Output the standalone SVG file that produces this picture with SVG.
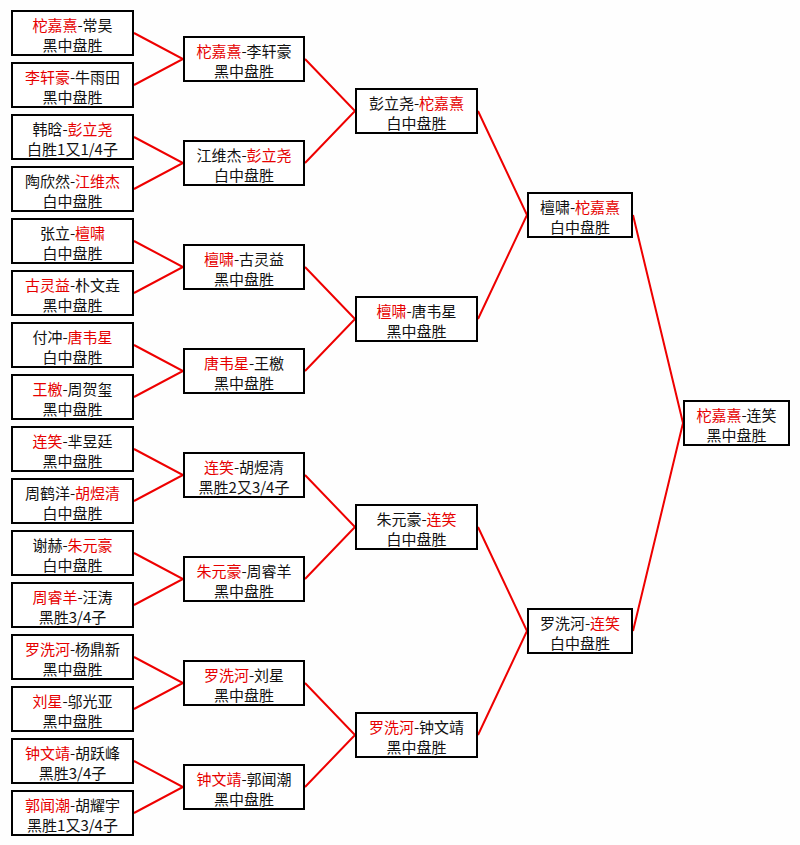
<svg xmlns="http://www.w3.org/2000/svg" width="800" height="845" viewBox="0 0 800 845">
<style>
.box{fill:#fff;stroke:#000;stroke-width:2}
.t{font-family:"Noto Sans CJK SC","Noto Sans",sans-serif;font-size:15px;fill:#111;text-anchor:middle}
.r{fill:#e60000}
.c{fill:none;stroke:#e00;stroke-width:2}
</style>
<rect width="800" height="845" fill="#fefefe"/>
<g id="connectors">
<polyline class="c" points="134,33 183,59 134,85"/>
<polyline class="c" points="134,137 183,163 134,189"/>
<polyline class="c" points="134,241 183,267 134,293"/>
<polyline class="c" points="134,345 183,371 134,397"/>
<polyline class="c" points="134,449 183,475 134,501"/>
<polyline class="c" points="134,553 183,579 134,605"/>
<polyline class="c" points="134,657 183,683 134,709"/>
<polyline class="c" points="134,761 183,787 134,813"/>
<polyline class="c" points="305,59 355,111 305,163"/>
<polyline class="c" points="305,267 355,319 305,371"/>
<polyline class="c" points="305,475 355,527 305,579"/>
<polyline class="c" points="305,683 355,735 305,787"/>
<polyline class="c" points="478,111 527,215 478,319"/>
<polyline class="c" points="478,527 527,631 478,735"/>
<polyline class="c" points="633,215 683,423 633,631"/>
</g>
<g id="r1m1"><rect class="box" x="12" y="11" width="121" height="44"/><text class="t" x="72.5" y="31"><tspan class="r">柁嘉熹</tspan>-常昊</text><text class="t" x="72.5" y="51">黑中盘胜</text></g>
<g id="r1m2"><rect class="box" x="12" y="63" width="121" height="44"/><text class="t" x="72.5" y="83"><tspan class="r">李轩豪</tspan>-牛雨田</text><text class="t" x="72.5" y="103">黑中盘胜</text></g>
<g id="r1m3"><rect class="box" x="12" y="115" width="121" height="44"/><text class="t" x="72.5" y="135">韩晗-<tspan class="r">彭立尧</tspan></text><text class="t" x="72.5" y="155">白胜1又1/4子</text></g>
<g id="r1m4"><rect class="box" x="12" y="167" width="121" height="44"/><text class="t" x="72.5" y="187">陶欣然-<tspan class="r">江维杰</tspan></text><text class="t" x="72.5" y="207">白中盘胜</text></g>
<g id="r1m5"><rect class="box" x="12" y="219" width="121" height="44"/><text class="t" x="72.5" y="239">张立-<tspan class="r">檀啸</tspan></text><text class="t" x="72.5" y="259">白中盘胜</text></g>
<g id="r1m6"><rect class="box" x="12" y="271" width="121" height="44"/><text class="t" x="72.5" y="291"><tspan class="r">古灵益</tspan>-朴文垚</text><text class="t" x="72.5" y="311">黑中盘胜</text></g>
<g id="r1m7"><rect class="box" x="12" y="323" width="121" height="44"/><text class="t" x="72.5" y="343">付冲-<tspan class="r">唐韦星</tspan></text><text class="t" x="72.5" y="363">白中盘胜</text></g>
<g id="r1m8"><rect class="box" x="12" y="375" width="121" height="44"/><text class="t" x="72.5" y="395"><tspan class="r">王檄</tspan>-周贺玺</text><text class="t" x="72.5" y="415">黑中盘胜</text></g>
<g id="r1m9"><rect class="box" x="12" y="427" width="121" height="44"/><text class="t" x="72.5" y="447"><tspan class="r">连笑</tspan>-芈昱廷</text><text class="t" x="72.5" y="467">黑中盘胜</text></g>
<g id="r1m10"><rect class="box" x="12" y="479" width="121" height="44"/><text class="t" x="72.5" y="499">周鹤洋-<tspan class="r">胡煜清</tspan></text><text class="t" x="72.5" y="519">白中盘胜</text></g>
<g id="r1m11"><rect class="box" x="12" y="531" width="121" height="44"/><text class="t" x="72.5" y="551">谢赫-<tspan class="r">朱元豪</tspan></text><text class="t" x="72.5" y="571">白中盘胜</text></g>
<g id="r1m12"><rect class="box" x="12" y="583" width="121" height="44"/><text class="t" x="72.5" y="603"><tspan class="r">周睿羊</tspan>-汪涛</text><text class="t" x="72.5" y="623">黑胜3/4子</text></g>
<g id="r1m13"><rect class="box" x="12" y="635" width="121" height="44"/><text class="t" x="72.5" y="655"><tspan class="r">罗洗河</tspan>-杨鼎新</text><text class="t" x="72.5" y="675">黑中盘胜</text></g>
<g id="r1m14"><rect class="box" x="12" y="687" width="121" height="44"/><text class="t" x="72.5" y="707"><tspan class="r">刘星</tspan>-邬光亚</text><text class="t" x="72.5" y="727">黑中盘胜</text></g>
<g id="r1m15"><rect class="box" x="12" y="739" width="121" height="44"/><text class="t" x="72.5" y="759"><tspan class="r">钟文靖</tspan>-胡跃峰</text><text class="t" x="72.5" y="779">黑胜3/4子</text></g>
<g id="r1m16"><rect class="box" x="12" y="791" width="121" height="44"/><text class="t" x="72.5" y="811"><tspan class="r">郭闻潮</tspan>-胡耀宇</text><text class="t" x="72.5" y="831">黑胜1又3/4子</text></g>
<g id="r2m1"><rect class="box" x="184" y="37" width="120" height="44"/><text class="t" x="244" y="57"><tspan class="r">柁嘉熹</tspan>-李轩豪</text><text class="t" x="244" y="77">黑中盘胜</text></g>
<g id="r2m2"><rect class="box" x="184" y="141" width="120" height="44"/><text class="t" x="244" y="161">江维杰-<tspan class="r">彭立尧</tspan></text><text class="t" x="244" y="181">白中盘胜</text></g>
<g id="r2m3"><rect class="box" x="184" y="245" width="120" height="44"/><text class="t" x="244" y="265"><tspan class="r">檀啸</tspan>-古灵益</text><text class="t" x="244" y="285">黑中盘胜</text></g>
<g id="r2m4"><rect class="box" x="184" y="349" width="120" height="44"/><text class="t" x="244" y="369"><tspan class="r">唐韦星</tspan>-王檄</text><text class="t" x="244" y="389">黑中盘胜</text></g>
<g id="r2m5"><rect class="box" x="184" y="453" width="120" height="44"/><text class="t" x="244" y="473"><tspan class="r">连笑</tspan>-胡煜清</text><text class="t" x="244" y="493">黑胜2又3/4子</text></g>
<g id="r2m6"><rect class="box" x="184" y="557" width="120" height="44"/><text class="t" x="244" y="577"><tspan class="r">朱元豪</tspan>-周睿羊</text><text class="t" x="244" y="597">黑中盘胜</text></g>
<g id="r2m7"><rect class="box" x="184" y="661" width="120" height="44"/><text class="t" x="244" y="681"><tspan class="r">罗洗河</tspan>-刘星</text><text class="t" x="244" y="701">黑中盘胜</text></g>
<g id="r2m8"><rect class="box" x="184" y="765" width="120" height="44"/><text class="t" x="244" y="785"><tspan class="r">钟文靖</tspan>-郭闻潮</text><text class="t" x="244" y="805">黑中盘胜</text></g>
<g id="r3m1"><rect class="box" x="356" y="89" width="121" height="44"/><text class="t" x="416.5" y="109">彭立尧-<tspan class="r">柁嘉熹</tspan></text><text class="t" x="416.5" y="129">白中盘胜</text></g>
<g id="r3m2"><rect class="box" x="356" y="297" width="121" height="44"/><text class="t" x="416.5" y="317"><tspan class="r">檀啸</tspan>-唐韦星</text><text class="t" x="416.5" y="337">黑中盘胜</text></g>
<g id="r3m3"><rect class="box" x="356" y="505" width="121" height="44"/><text class="t" x="416.5" y="525">朱元豪-<tspan class="r">连笑</tspan></text><text class="t" x="416.5" y="545">白中盘胜</text></g>
<g id="r3m4"><rect class="box" x="356" y="713" width="121" height="44"/><text class="t" x="416.5" y="733"><tspan class="r">罗洗河</tspan>-钟文靖</text><text class="t" x="416.5" y="753">黑中盘胜</text></g>
<g id="r4m1"><rect class="box" x="528" y="193" width="104" height="44"/><text class="t" x="580" y="213">檀啸-<tspan class="r">柁嘉熹</tspan></text><text class="t" x="580" y="233">白中盘胜</text></g>
<g id="r4m2"><rect class="box" x="528" y="609" width="104" height="44"/><text class="t" x="580" y="629">罗洗河-<tspan class="r">连笑</tspan></text><text class="t" x="580" y="649">白中盘胜</text></g>
<g id="final"><rect class="box" x="684" y="401" width="105" height="44"/><text class="t" x="736.5" y="421"><tspan class="r">柁嘉熹</tspan>-连笑</text><text class="t" x="736.5" y="441">黑中盘胜</text></g>
</svg>
